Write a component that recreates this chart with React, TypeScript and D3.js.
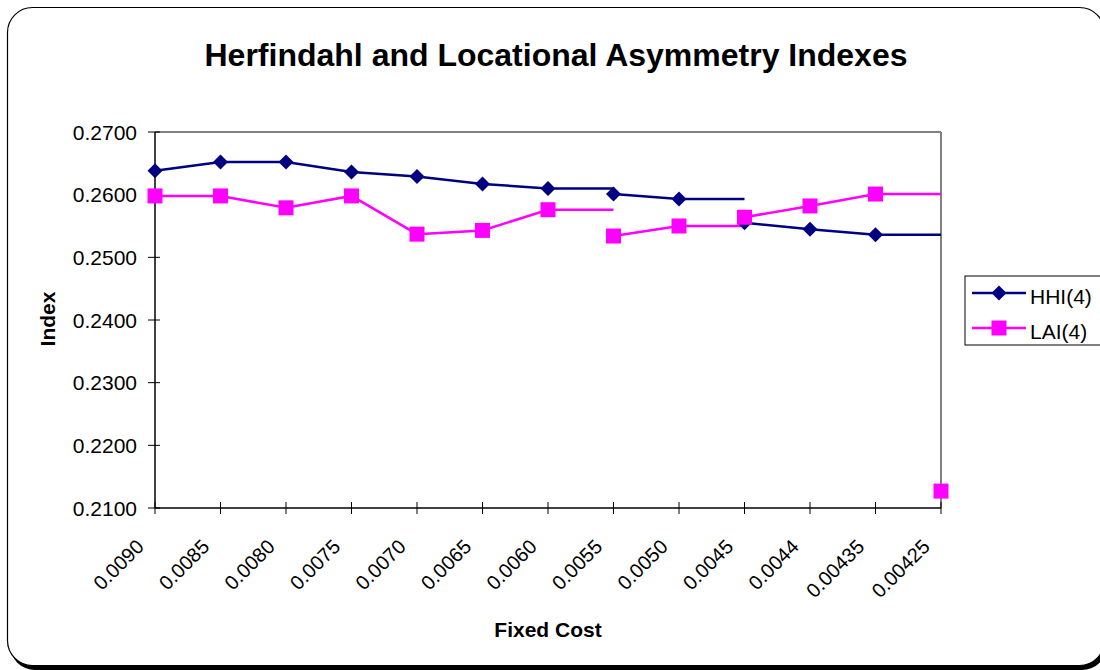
import React from 'react';
import * as d3 from 'd3';

const categories = ['0.0090', '0.0085', '0.0080', '0.0075', '0.0070', '0.0065', '0.0060', '0.0055', '0.0050', '0.0045', '0.0044', '0.00435', '0.00425'];
const yTicks = [0.21, 0.22, 0.23, 0.24, 0.25, 0.26, 0.27];

// marker values per category (null = no marker)
const hhiMarkers: (number | null)[] = [0.2638, 0.2652, 0.2652, 0.2636, 0.2629, 0.2617, 0.2610, 0.2601, 0.2593, 0.2555, 0.2545, 0.2536, null];
const laiMarkers: (number | null)[] = [0.2598, 0.2598, 0.2579, 0.2598, 0.2537, 0.2543, 0.2576, 0.2534, 0.2550, 0.2564, 0.2582, 0.2601, 0.2127];

// line pieces as drawn: start category index + values
const hhiSegments = [
  { start: 0, values: [0.2638, 0.2652, 0.2652, 0.2636, 0.2629, 0.2617, 0.2610, 0.2610] },
  { start: 7, values: [0.2601, 0.2593, 0.2593] },
  { start: 9, values: [0.2555, 0.2545, 0.2536, 0.2536] },
];
const laiSegments = [
  { start: 0, values: [0.2598, 0.2598, 0.2579, 0.2598, 0.2537, 0.2543, 0.2576, 0.2576] },
  { start: 7, values: [0.2534, 0.2550, 0.2550] },
  { start: 9, values: [0.2564, 0.2582, 0.2601, 0.2601] },
];

const HHI_COLOR = '#000080';
const LAI_COLOR = '#FF00FF';
const FONT = 'Arial, "Liberation Sans", sans-serif';

export default function App() {
  const width = 1100;
  const height = 670;
  const plot = { left: 155, right: 941, top: 132, bottom: 508 };

  const x = d3.scalePoint<string>().domain(categories).range([plot.left, plot.right]);
  const y = d3.scaleLinear().domain([0.21, 0.27]).range([plot.bottom, plot.top]);

  const line = d3.line<[number, number]>()
    .x(d => d[0])
    .y(d => d[1]);

  const segPath = (seg: { start: number; values: number[] }) =>
    line(seg.values.map((v, i) => [x(categories[seg.start + i])!, y(v)]));

  const diamond = (cx: number, cy: number, r = 7.5) =>
    `M${cx},${cy - r}L${cx + r},${cy}L${cx},${cy + r}L${cx - r},${cy}Z`;

  return (
    <svg width={width} height={height} style={{ position: 'absolute', left: 0, top: 0, background: '#fff' }}>
      {/* outer chart frame with shadow */}
      <rect x={10} y={10} width={1097} height={660} rx={25} fill="#000" />
      <rect x={7.5} y={7.5} width={1097} height={658} rx={25} fill="#fff" stroke="#000" strokeWidth={1.2} />

      <text x={556} y={66} textAnchor="middle" fontFamily={FONT} fontWeight="bold" fontSize={32}>
        Herfindahl and Locational Asymmetry Indexes
      </text>

      {/* plot frame */}
      <line x1={plot.left} x2={plot.right} y1={plot.top} y2={plot.top} stroke="#808080" strokeWidth={2} />
      <line x1={plot.right} x2={plot.right} y1={plot.top} y2={plot.bottom} stroke="#808080" strokeWidth={2} />

      {/* y axis */}
      <line x1={plot.left} x2={plot.left} y1={plot.top} y2={plot.bottom} stroke="#000" strokeWidth={1.5} />
      {yTicks.map(t => (
        <g key={t}>
          <line x1={plot.left - 7} x2={plot.left + 5} y1={y(t)} y2={y(t)} stroke="#000" strokeWidth={1} />
          <text x={137} y={y(t)} dy="0.36em" textAnchor="end" fontFamily={FONT} fontSize={21}>
            {d3.format('.4f')(t)}
          </text>
        </g>
      ))}

      {/* x axis */}
      <line x1={plot.left} x2={plot.right} y1={plot.bottom} y2={plot.bottom} stroke="#000" strokeWidth={1.5} />
      {categories.map(c => (
        <g key={c}>
          <line x1={x(c)} x2={x(c)} y1={plot.bottom - 6} y2={plot.bottom + 6} stroke="#000" strokeWidth={1} />
          <text
            transform={`translate(${x(c)! - 10},${548}) rotate(-45)`}
            textAnchor="end"
            fontFamily={FONT}
            fontSize={20}
          >
            {c}
          </text>
        </g>
      ))}

      <text x={548} y={637} textAnchor="middle" fontFamily={FONT} fontWeight="bold" fontSize={21}>
        Fixed Cost
      </text>
      <text transform="translate(55,319) rotate(-90)" textAnchor="middle" fontFamily={FONT} fontWeight="bold" fontSize={21}>
        Index
      </text>

      {/* series lines */}
      {hhiSegments.map((s, i) => (
        <path key={'h' + i} d={segPath(s)!} fill="none" stroke={HHI_COLOR} strokeWidth={2.5} />
      ))}
      {laiSegments.map((s, i) => (
        <path key={'l' + i} d={segPath(s)!} fill="none" stroke={LAI_COLOR} strokeWidth={2.5} />
      ))}

      {/* markers */}
      {hhiMarkers.map((v, i) =>
        v == null ? null : <path key={'hm' + i} d={diamond(x(categories[i])!, y(v))} fill={HHI_COLOR} />
      )}
      {laiMarkers.map((v, i) =>
        v == null ? null : (
          <rect key={'lm' + i} x={x(categories[i])! - 7.5} y={y(v) - 7.5} width={15} height={15} fill={LAI_COLOR} />
        )
      )}

      {/* legend */}
      <g fontFamily={FONT} fontSize={21}>
        <rect x={965} y={276} width={150} height={69} fill="#fff" stroke="#000" strokeWidth={1} />
        <line x1={972} x2={1026} y1={293} y2={293} stroke={HHI_COLOR} strokeWidth={2.5} />
        <path d={diamond(999, 293)} fill={HHI_COLOR} />
        <text x={1030} y={304}>HHI(4)</text>
        <line x1={972} x2={1026} y1={328} y2={328} stroke={LAI_COLOR} strokeWidth={2.5} />
        <rect x={991.5} y={320.5} width={15} height={15} fill={LAI_COLOR} />
        <text x={1030} y={339}>LAI(4)</text>
      </g>
    </svg>
  );
}
